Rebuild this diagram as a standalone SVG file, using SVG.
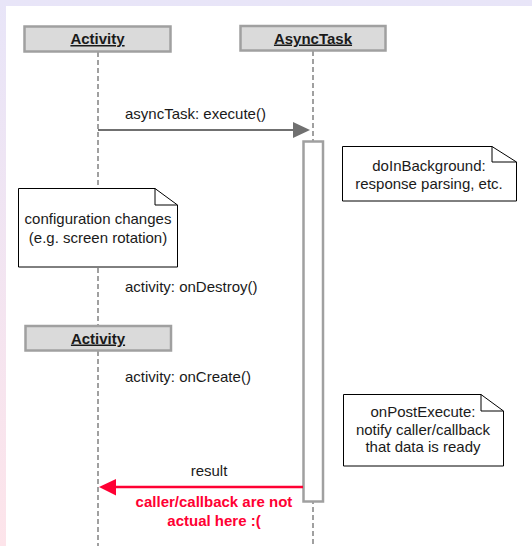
<svg xmlns="http://www.w3.org/2000/svg" width="532" height="546" viewBox="0 0 532 546">
  <defs>
    <linearGradient id="frameGrad" x1="0" y1="0" x2="0" y2="1">
      <stop offset="0" stop-color="#e8e5f8"/>
      <stop offset="1" stop-color="#fde4ea"/>
    </linearGradient>
    <style>
      text { font-family: "Liberation Sans", Arial, sans-serif; font-size: 15px; fill: #1a1a1a; }
      .hdr { fill: #dadada; stroke: #a0a0a0; stroke-width: 2.5; }
      .hdrText { font-weight: bold; text-decoration: underline; text-anchor: middle; }
      .life { stroke: #a0a0a0; stroke-width: 2; stroke-dasharray: 5 3; fill: none; }
      .act { fill: #ffffff; stroke: #a0a0a0; stroke-width: 2.5; }
      .note { fill: #ffffff; stroke: #000000; stroke-width: 1; }
      .fold { fill: none; stroke: #000000; stroke-width: 1; }
      .mid { text-anchor: middle; }
      .red { fill: #ff0033; font-weight: bold; text-anchor: middle; }
    </style>
  </defs>

  <!-- page frame -->
  <rect x="0" y="0" width="532" height="546" fill="url(#frameGrad)"/>
  <rect x="6" y="6" width="526" height="540" fill="#ffffff"/>

  <!-- lifelines -->
  <g id="lifelines">
    <line class="life" x1="98" y1="52" x2="98" y2="326"/>
    <line class="life" x1="98" y1="351" x2="98" y2="546"/>
    <line class="life" x1="313" y1="51" x2="313" y2="546"/>
  </g>

  <!-- participants -->
  <g id="activity1">
    <rect class="hdr" x="24.5" y="26.5" width="146" height="25"/>
    <text class="hdrText" x="97.5" y="44">Activity</text>
  </g>
  <g id="asynctask">
    <rect class="hdr" x="240.5" y="26" width="145" height="24.5"/>
    <text class="hdrText" x="313" y="43.5">AsyncTask</text>
  </g>
  <g id="activity2">
    <rect class="hdr" x="25.5" y="326" width="145.5" height="24.5"/>
    <text class="hdrText" x="98" y="343.5">Activity</text>
  </g>

  <!-- AsyncTask activation bar -->
  <g id="activation">
    <rect class="act" x="303.5" y="141.5" width="19.5" height="360"/>
  </g>

  <!-- notes -->
  <g id="noteBackground">
    <path class="note" d="M342.5,146.5 H492 L516.5,162 V201 H342.5 Z"/>
    <path class="fold" d="M492,146.5 V162 H516.5"/>
    <text class="mid" x="429" y="171">doInBackground:</text>
    <text class="mid" x="429" y="189">response parsing, etc.</text>
  </g>
  <g id="noteConfig">
    <path class="note" d="M18.5,188.5 H155 L177.5,205 V267 H18.5 Z"/>
    <path class="fold" d="M155,188.5 V205 H177.5"/>
    <text class="mid" x="98" y="224">configuration changes</text>
    <text class="mid" x="98" y="242.5">(e.g. screen rotation)</text>
  </g>
  <g id="notePostExecute">
    <path class="note" d="M343.5,394.5 H481 L503.5,411 V466 H343.5 Z"/>
    <path class="fold" d="M481,394.5 V411 H503.5"/>
    <text class="mid" x="423" y="416.5">onPostExecute:</text>
    <text class="mid" x="423" y="434.5">notify caller/callback</text>
    <text class="mid" x="423" y="452">that data is ready</text>
  </g>

  <!-- messages -->
  <g id="connectors">
    <line x1="98" y1="130" x2="294" y2="130" stroke="#707070" stroke-width="2"/>
    <polygon points="293,122 310,130 293,138" fill="#707070"/>
    <text x="125" y="118.5">asyncTask: execute()</text>

    <text x="125" y="292">activity: onDestroy()</text>
    <text x="125" y="382">activity: onCreate()</text>

    <line x1="303" y1="487" x2="114" y2="487" stroke="#ff0033" stroke-width="2.5"/>
    <polygon points="116,479 99,487 116,495.5" fill="#ff0033"/>
    <text class="mid" x="209" y="476">result</text>
    <text class="red" x="214" y="507">caller/callback are not</text>
    <text class="red" x="214" y="525.5">actual here :(</text>
  </g>
</svg>
